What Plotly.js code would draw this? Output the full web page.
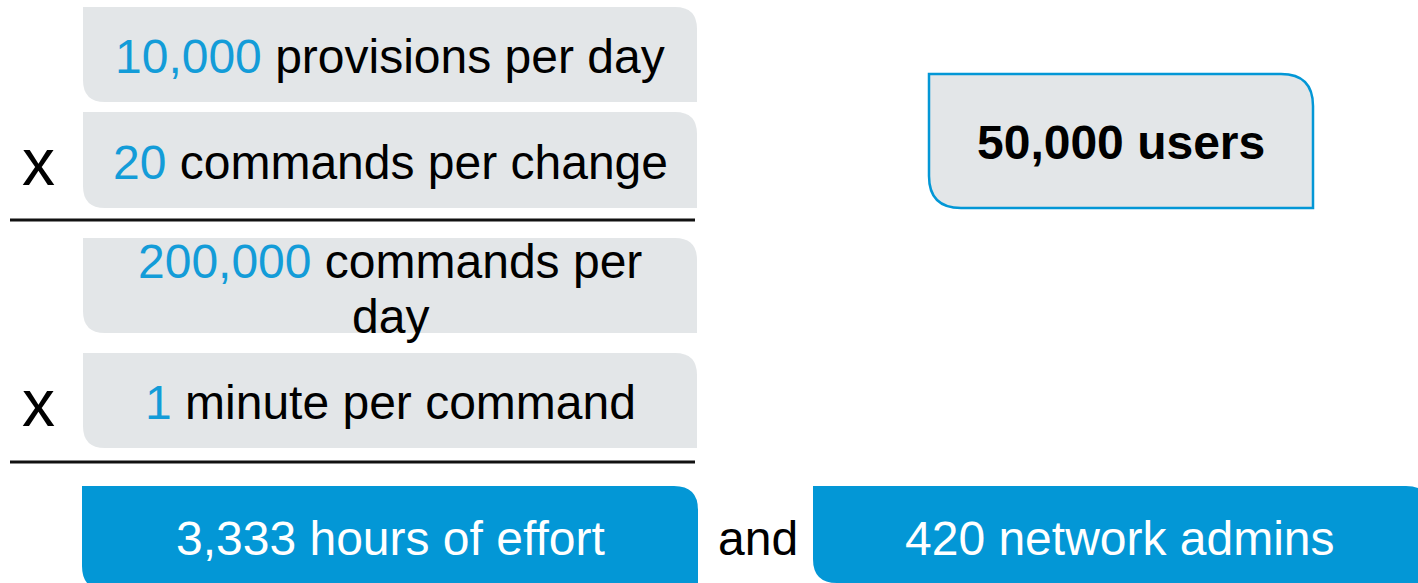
<!DOCTYPE html>
<html>
<head>
<meta charset="utf-8">
<script src="https://cdn.plot.ly/plotly-3.0.1.min.js"></script>
<style>html,body{margin:0;padding:0;background:#fff;}#chart{width:1418px;height:583px;}</style>
</head>
<body>
<div id="chart"></div>
<script>
// ---- data ----
const stepValues = [10000, 20, 200000, 1];
const stepUnits = ['provisions per day', 'commands per change', 'commands per|day', 'minute per command'];
const operators = ['', 'x', '', 'x'];
const resultValues = [3333, 420];
const resultUnits = ['hours of effort', 'network admins'];
const connector = 'and';
const userValue = 50000;
const userUnit = 'users';

// ---- styles / geometry ----
const W = 1418, H = 583;
const GRAY = '#E3E6E8', BLUE = '#0397D6', BLUE_TXT = '#139CD8';
const FONT = 'Liberation Sans, Arial, Helvetica, sans-serif';
const FS = 48;
const stepBoxes = [[83, 7, 697, 102], [83, 112, 697, 208], [83, 238, 697, 333], [83, 353, 697, 448]];
const resultBoxes = [[82, 486, 698, 590], [813, 486, 1430, 583]];
const userBox = [929, 74, 1313, 208];
const ruleYs = [220, 462];
const fmt = v => v.toLocaleString('en-US');

function boxPath(b, r) {
  const [x0, y0, x1, y1] = b;
  return `M${x0},${y0} L${x1 - r},${y0} Q${x1},${y0} ${x1},${y0 + r} L${x1},${y1} ` +
         `L${x0 + r},${y1} Q${x0},${y1} ${x0},${y1 - r} Z`;
}

const shapes = [];
const annotations = [];
function txt(x, y, text, opts) {
  annotations.push(Object.assign({
    x: x, y: y, xref: 'x', yref: 'y', text: text, showarrow: false,
    xanchor: 'center', yanchor: 'middle',
    font: {family: FONT, size: FS, color: '#000'}
  }, opts || {}));
}

stepBoxes.forEach((b, i) => {
  shapes.push({type: 'path', path: boxPath(b, 22), xref: 'x', yref: 'y',
    fillcolor: GRAY, line: {width: 0}, layer: 'below'});
  const lines = stepUnits[i].split('|');
  const cx = (b[0] + b[2]) / 2;
  const cy = (b[1] + b[3]) / 2;
  const first = `<span style="color:${BLUE_TXT}">${fmt(stepValues[i])}</span> ${lines[0]}`;
  if (lines.length === 1) {
    txt(cx, cy + 2, first);
  } else {
    txt(cx, cy - 24, first);
    txt(cx, cy + 31, lines[1]);
  }
  if (operators[i]) txt(38, cy + 2, operators[i], {font: {family: FONT, size: 66, color: '#000'}});
});

ruleYs.forEach(y => {
  shapes.push({type: 'line', x0: 10, x1: 695, y0: y, y1: y, xref: 'x', yref: 'y',
    line: {color: '#111', width: 3}});
});

resultBoxes.forEach((b, i) => {
  shapes.push({type: 'path', path: boxPath(b, 24), xref: 'x', yref: 'y',
    fillcolor: BLUE, line: {width: 0}, layer: 'below'});
});
txt(390, 538, `${fmt(resultValues[0])} ${resultUnits[0]}`, {font: {family: FONT, size: FS, color: '#fff'}});
txt(1120, 538, `${fmt(resultValues[1])} ${resultUnits[1]}`, {font: {family: FONT, size: FS, color: '#fff'}});
txt(758, 538, connector);

shapes.push({type: 'path', path: boxPath(userBox, 32), xref: 'x', yref: 'y',
  fillcolor: GRAY, line: {color: BLUE, width: 2.5}, layer: 'below'});
txt((userBox[0] + userBox[2]) / 2, 142, `<b>${fmt(userValue)} ${userUnit}</b>`, {font: {family: FONT, size: 48, color: '#000'}});

const layout = {
  width: W, height: H,
  margin: {l: 0, r: 0, t: 0, b: 0, pad: 0},
  paper_bgcolor: '#fff', plot_bgcolor: '#fff',
  xaxis: {range: [0, W], visible: false, fixedrange: true},
  yaxis: {range: [H, 0], visible: false, fixedrange: true},
  showlegend: false,
  shapes: shapes,
  annotations: annotations
};
Plotly.newPlot('chart', [], layout, {staticPlot: true, displayModeBar: false});
</script>
</body>
</html>
